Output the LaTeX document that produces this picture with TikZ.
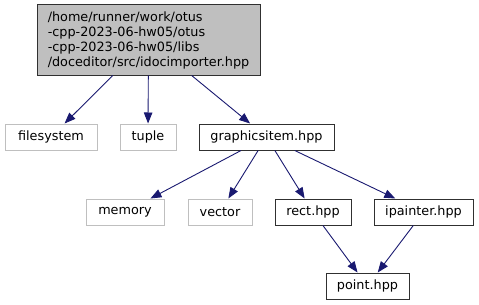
\documentclass[tikz,border=0pt]{standalone}
\usepackage{fontspec}
\setmainfont{DejaVu Sans}
\usetikzlibrary{arrows.meta}
\definecolor{edgeblue}{HTML}{191970}
\definecolor{rootfill}{HTML}{BFBFBF}
\definecolor{extgray}{HTML}{BFBFBF}
\definecolor{boxline}{HTML}{303030}
\tikzset{
  base/.style={font=\fontsize{12.8}{15}\selectfont, inner sep=0pt, minimum height=26pt, text=black, line width=1pt},
  rootnode/.style={base, draw=boxline, fill=rootfill, align=left, minimum width=223pt, minimum height=70pt},
  filenode/.style={base, draw=boxline},
  extnode/.style={base, draw=extgray},
  dep/.style={draw=edgeblue, line width=0.9pt, -{Triangle[length=11pt,width=8.5pt]}}
}
\begin{document}
\begin{tikzpicture}[x=1pt,y=-1pt]
\useasboundingbox (0,0) rectangle (479,305);
\node[rootnode] (root) at (148.5,40) {/home/runner/work/otus\\-cpp-2023-06-hw05/otus\\-cpp-2023-06-hw05/libs\\/doceditor/src/idocimporter.hpp};
\node[extnode, minimum width=92pt] (fs) at (51,137) {filesystem};
\node[extnode, minimum width=56pt] (tuple) at (148,137) {tuple};
\node[filenode, minimum width=135pt] (gi) at (266.5,137) {graphicsitem.hpp};
\node[extnode, minimum width=78pt] (mem) at (125,212) {memory};
\node[extnode, minimum width=64pt] (vec) at (220,212) {vector};
\node[filenode, minimum width=76pt] (rect) at (313,212) {rect.hpp};
\node[filenode, minimum width=99pt] (ip) at (423.5,212) {ipainter.hpp};
\node[filenode, minimum width=83pt] (pt) at (367.5,286) {point.hpp};
\draw[dep] (root) -- (fs);
\draw[dep] (root) -- (tuple);
\draw[dep] (root) -- (gi);
\draw[dep] (gi) -- (mem);
\draw[dep] (gi) -- (vec);
\draw[dep] (gi) -- (rect);
\draw[dep] (gi) -- (ip);
\draw[dep] (rect) -- (pt);
\draw[dep] (ip) -- (pt);
\end{tikzpicture}
\end{document}
